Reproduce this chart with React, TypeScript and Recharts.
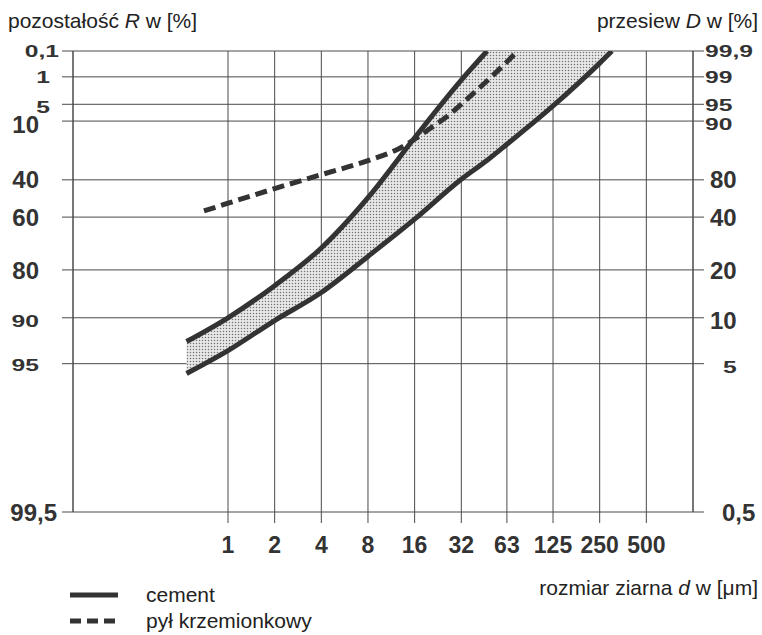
import { ComposedChart, Line, Area, XAxis, YAxis, CartesianGrid, ReferenceLine } from "recharts"

// grain size d [µm], log axis
const xTicks = [1, 2, 4, 8, 16, 32, 63, 125, 250, 500]
const xEdges = [0.1, 1000]

// residue R [%] on the RRSB grid, left labels / passing D labels on the right
const rTicks = [0.1, 1, 5, 10, 40, 60, 80, 90, 95, 99.5]
const leftLabels = ["0,1", "1", "5", "10", "40", "60", "80", "90", "95", "99,5"]
const rightLabels = ["99,9", "99", "95", "90", "80", "40", "20", "10", "5", "0,5"]

// cement, fine boundary
const fineD = [0.54, 1, 2, 4, 8, 16, 32, 47]
const fineR = [93, 90, 84, 73, 50, 17, 1.25, 0.1]

// cement, coarse boundary
const coarseD = [0.54, 1, 2, 4, 8, 16, 32, 47, 63, 125, 250, 300]
const coarseR = [95.7, 93.9, 90.4, 85.5, 75.9, 61, 39.7, 28.8, 20.2, 5.4, 0.33, 0.1]

// upper edge of the shaded cement band (fine curve, then the 0,1 line)
const bandTopR = [93, 90, 84, 73, 50, 17, 1.25, 0.1, 0.1, 0.1, 0.1, 0.1]

// pył krzemionkowy
const silicaD = [0.7, 1, 2, 4, 8, 13, 20, 27, 36, 49, 74]
const silicaR = [57, 53, 45, 37, 29, 22, 13, 7.7, 3.5, 1.1, 0.1]

const rrsb = (r: number) => Math.log(Math.log(100 / r))

const yTicks = rTicks.map(rrsb)
const yDomain = [rrsb(99.5), rrsb(0.1)]

const fine = fineD.map((d, i) => ({ d, v: rrsb(fineR[i]) }))
const coarse = coarseD.map((d, i) => ({ d, v: rrsb(coarseR[i]) }))
const band = coarseD.map((d, i) => ({ d, range: [rrsb(coarseR[i]), rrsb(bandTopR[i])] }))
const silica = silicaD.map((d, i) => ({ d, v: rrsb(silicaR[i]) }))

const labelAt = (labels: string[], v: number) => {
  const i = yTicks.findIndex((t) => Math.abs(t - v) < 1e-6)
  return i >= 0 ? labels[i] : ""
}

// the crowded labels at the top of the scale are printed smaller and wider
const smallLabels = ["0,1", "1", "5", "99,9", "99", "95", "90"]
// the printed labels are not aligned in one column
const leftEdge: Record<string, number> = { "0,1": 59, "1": 50, "5": 50, "99,5": 57 }
const rightEdge: Record<string, number> = { "99,9": 705, "99": 705, "95": 705, "90": 705, "5": 723, "0,5": 722 }
const labelShift: Record<string, number> = { "5": 3, "10": 3, "95": 1, "90": 3 }

const ink = "#333"
const gridInk = "#4a4a4a"

const makeYTick = (labels: string[], side: "left" | "right") => (props: any) => {
  const { y, payload } = props
  const label = labelAt(labels, payload.value)
  const small = smallLabels.includes(label)
  const dy = labelShift[label] ?? 0
  const x = side === "left" ? leftEdge[label] ?? 39 : rightEdge[label] ?? 710
  return (
    <text
      transform={`translate(${x},${y + dy}) scale(${small ? 1.45 : 1},1)`}
      textAnchor={side === "left" ? "end" : "start"}
      dy="0.36em"
      fill={ink}
      fontSize={small ? 17 : 24}
      fontWeight={700}
    >
      {label}
    </text>
  )
}

export default function App() {
  return (
    <div
      style={{
        position: "relative",
        width: 762,
        height: 635,
        fontFamily: "'Liberation Sans', Arial, sans-serif",
        color: "#222",
      }}
    >
      <style>{"body{margin:0}"}</style>
      <ComposedChart width={762} height={635} margin={{ top: 51, right: 0, bottom: 83, left: 0 }}>
        <defs>
          <pattern id="dots" width={3} height={3} patternUnits="userSpaceOnUse">
            <rect width={3} height={3} fill="#e8e8e8" />
            <circle cx={1.5} cy={1.5} r={0.75} fill="#737373" />
          </pattern>
        </defs>
        <CartesianGrid yAxisId="left" stroke={gridInk} strokeWidth={1} />
        <XAxis
          dataKey="d"
          type="number"
          scale="log"
          domain={[0.1, 1000]}
          ticks={xTicks}
          interval={0}
          allowDataOverflow
          axisLine={false}
          tickSize={11}
          tickMargin={14}
          height={40}
          tick={{ fill: ink, fontSize: 23, fontWeight: 700 }}
          tickLine={{ stroke: gridInk }}
        />
        <YAxis
          yAxisId="left"
          type="number"
          domain={yDomain}
          ticks={yTicks}
          interval={0}
          allowDataOverflow
          width={73}
          axisLine={false}
          tickSize={11}
          tickMargin={3}
          tick={makeYTick(leftLabels, "left")}
          tickLine={{ stroke: gridInk }}
        />
        <YAxis
          yAxisId="right"
          orientation="right"
          type="number"
          domain={yDomain}
          ticks={yTicks}
          interval={0}
          allowDataOverflow
          width={69}
          axisLine={false}
          tickSize={11}
          tickMargin={3}
          tick={makeYTick(rightLabels, "right")}
          tickLine={{ stroke: gridInk }}
        />
        {xEdges.map((x) => (
          <ReferenceLine key={x} yAxisId="left" x={x} stroke={gridInk} strokeWidth={1} />
        ))}
        <Area
          yAxisId="left"
          data={band}
          dataKey="range"
          type="monotone"
          stroke="none"
          fill="url(#dots)"
          fillOpacity={1}
          isAnimationActive={false}
        />
        <Line
          yAxisId="left"
          data={fine}
          dataKey="v"
          type="monotone"
          stroke={ink}
          strokeWidth={5}
          dot={false}
          isAnimationActive={false}
        />
        <Line
          yAxisId="left"
          data={coarse}
          dataKey="v"
          type="monotone"
          stroke={ink}
          strokeWidth={5}
          dot={false}
          isAnimationActive={false}
        />
        <Line
          yAxisId="left"
          data={silica}
          dataKey="v"
          type="monotone"
          stroke={ink}
          strokeWidth={5}
          strokeDasharray="12 6"
          dot={false}
          isAnimationActive={false}
        />
      </ComposedChart>

      <div style={{ position: "absolute", left: 8, top: 9, fontSize: 21, whiteSpace: "nowrap" }}>
        pozostałość <i>R</i> w [%]
      </div>
      <div style={{ position: "absolute", right: 4, top: 9, fontSize: 21, whiteSpace: "nowrap" }}>
        przesiew <i>D</i> w [%]
      </div>
      <div style={{ position: "absolute", right: 4, top: 576, fontSize: 21, whiteSpace: "nowrap" }}>
        rozmiar ziarna <i>d</i> w [μm]
      </div>

      <div style={{ position: "absolute", left: 70, top: 582, fontSize: 21, lineHeight: "26px" }}>
        <div style={{ display: "flex", alignItems: "center" }}>
          <svg width={50} height={10} style={{ marginRight: 26 }}>
            <line x1={0} y1={5} x2={48} y2={5} stroke={ink} strokeWidth={5} />
          </svg>
          cement
        </div>
        <div style={{ display: "flex", alignItems: "center" }}>
          <svg width={50} height={10} style={{ marginRight: 26 }}>
            <line x1={0} y1={5} x2={48} y2={5} stroke={ink} strokeWidth={5} strokeDasharray="11 6" />
          </svg>
          pył krzemionkowy
        </div>
      </div>
    </div>
  )
}
